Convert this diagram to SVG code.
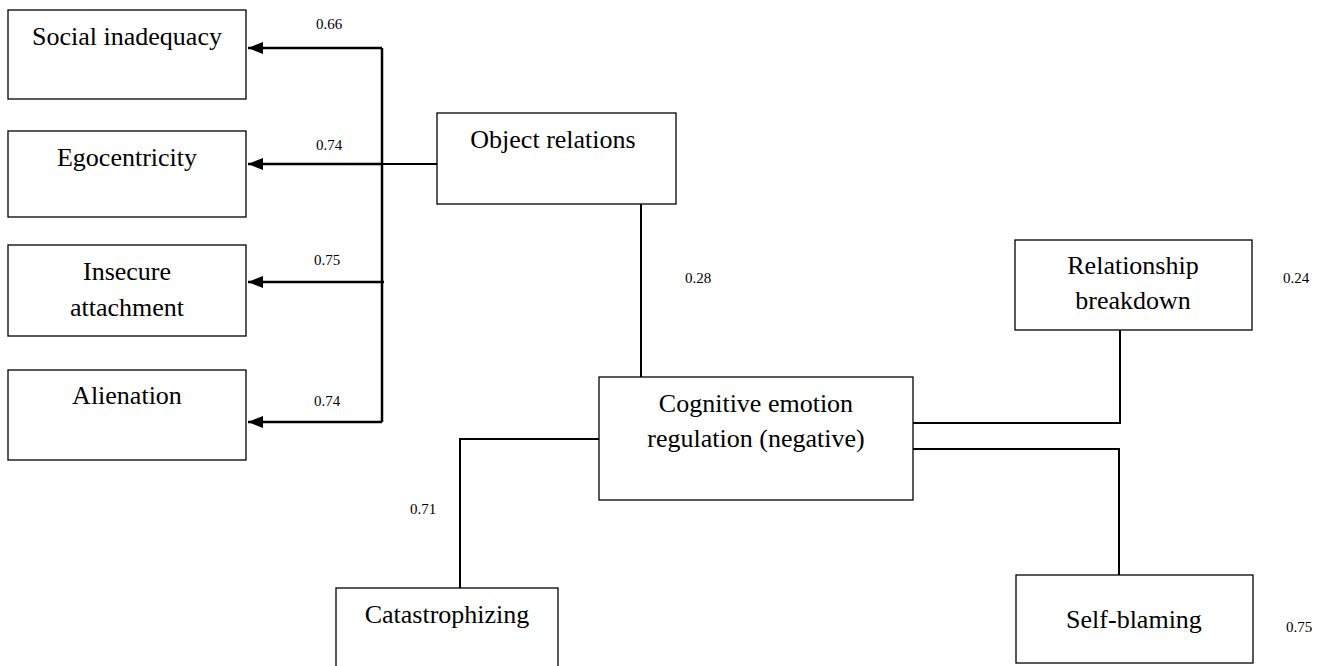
<svg xmlns="http://www.w3.org/2000/svg" width="1323" height="666" viewBox="0 0 1323 666">
<style>
.box{fill:#fff;stroke:#000;stroke-width:1.3}
.t{font-family:"Liberation Serif","Times New Roman",serif;font-size:26px;fill:#000;text-anchor:middle}
.n{font-family:"Liberation Serif","Times New Roman",serif;font-size:15px;fill:#000;text-anchor:middle}
.c{fill:none;stroke:#000;stroke-width:2}
.a{fill:none;stroke:#000;stroke-width:2.5}
</style>
<defs>
<marker id="ah" markerWidth="16" markerHeight="12" refX="15" refY="6" orient="auto" markerUnits="userSpaceOnUse">
<path d="M0,0 L15,6 L0,12 Z" fill="#000"/>
</marker>
</defs>
<rect width="1323" height="666" fill="#fff"/>
<g id="connectors">
<line class="a" x1="382" y1="48" x2="382" y2="422"/>
<line class="a" x1="382" y1="48" x2="248" y2="48" marker-end="url(#ah)"/>
<line class="c" x1="437" y1="164" x2="382" y2="164"/>
<line class="a" x1="382" y1="164" x2="248" y2="164" marker-end="url(#ah)"/>
<line class="a" x1="384" y1="282" x2="248" y2="282" marker-end="url(#ah)"/>
<line class="a" x1="382" y1="422" x2="248" y2="422" marker-end="url(#ah)"/>
<line class="c" x1="641" y1="204" x2="641" y2="377"/>
<polyline class="c" points="913,423 1120,423 1120,330"/>
<polyline class="c" points="913,449 1119,449 1119,575"/>
<polyline class="c" points="599,439 460,439 460,588"/>
<text class="n" x="329" y="29">0.66</text>
<text class="n" x="329" y="150">0.74</text>
<text class="n" x="327" y="265">0.75</text>
<text class="n" x="327" y="406">0.74</text>
<text class="n" x="698" y="283">0.28</text>
<text class="n" x="1296" y="283">0.24</text>
<text class="n" x="1299" y="632">0.75</text>
<text class="n" x="423" y="514">0.71</text>
</g>
<g id="social-inadequacy">
<rect class="box" x="8" y="10" width="238" height="89"/>
<text class="t" x="127" y="45">Social inadequacy</text>
</g>
<g id="egocentricity">
<rect class="box" x="8" y="131" width="238" height="86"/>
<text class="t" x="127" y="166">Egocentricity</text>
</g>
<g id="insecure-attachment">
<rect class="box" x="8" y="245" width="238" height="91"/>
<text class="t" x="127" y="280">Insecure</text>
<text class="t" x="127" y="316">attachment</text>
</g>
<g id="alienation">
<rect class="box" x="8" y="370" width="238" height="90"/>
<text class="t" x="127" y="404">Alienation</text>
</g>
<g id="object-relations">
<rect class="box" x="437" y="113" width="239" height="91"/>
<text class="t" x="553" y="148">Object relations</text>
</g>
<g id="cognitive-emotion-regulation">
<rect class="box" x="599" y="377" width="314" height="123"/>
<text class="t" x="756" y="412">Cognitive emotion</text>
<text class="t" x="756" y="447">regulation (negative)</text>
</g>
<g id="relationship-breakdown">
<rect class="box" x="1015" y="240" width="237" height="90"/>
<text class="t" x="1133" y="274">Relationship</text>
<text class="t" x="1133" y="309">breakdown</text>
</g>
<g id="self-blaming">
<rect class="box" x="1016" y="575" width="237" height="88"/>
<text class="t" x="1134" y="628">Self-blaming</text>
</g>
<g id="catastrophizing">
<rect class="box" x="336" y="588" width="222" height="90"/>
<text class="t" x="447" y="623">Catastrophizing</text>
</g>
</svg>
